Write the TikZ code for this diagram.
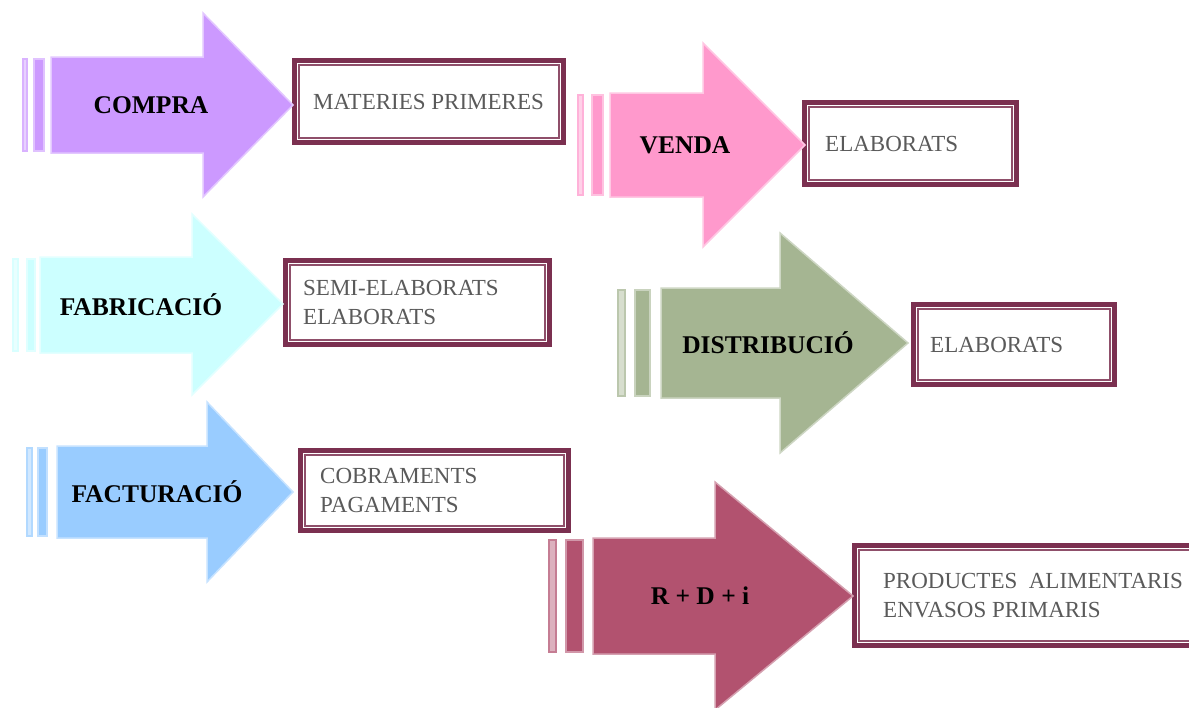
\documentclass[tikz,border=0pt]{standalone}
\usepackage{fontspec}
\setmainfont{Liberation Serif}
\usetikzlibrary{positioning}
\definecolor{compracol}{HTML}{CC99FF}
\definecolor{vendacol}{HTML}{FF99CC}
\definecolor{fabcol}{HTML}{CCFFFF}
\definecolor{distcol}{HTML}{A5B592}
\definecolor{factcol}{HTML}{99CCFF}
\definecolor{rdicol}{HTML}{B2526F}
\definecolor{boxred}{HTML}{7B3050}
\definecolor{boxgray}{HTML}{5A5A5A}
\begin{document}
\begin{tikzpicture}[
        x = 1pt, y = -1pt,
        shaft/.style    = {fill=#1, draw=#1!55!white, line width=1.5pt},
        thinbar/.style  = {fill=#1!45!white, draw=#1!75!white, line width=1.2pt},
        widebar/.style  = {fill=#1, draw=#1!60!white, line width=1.2pt},
        tag/.style      = {font=\fontsize{25.5}{30}\selectfont\bfseries, text=black, inner sep=0pt},
        box/.style      = {draw=boxred, line width=5pt, fill=white, inner sep=0pt},
        boxline/.style  = {draw=boxred!85!white, line width=1.3pt},
        boxtext/.style  = {font=\fontsize{23}{29}\selectfont, text=boxgray, align=left, inner sep=0pt},
        %sloped
      ]
    \clip (0,0) rectangle (1189,707);
    \fill[white] (0,0) rectangle (1189,707);

    % boxes
    \node[box, minimum width=269pt, minimum height=82pt] (materies) at (429,101.5) {};
    \node[box, minimum width=212pt, minimum height=82pt] (vendabox) at (910.5,143.5) {};
    \node[box, minimum width=264pt, minimum height=84pt] (fabbox) at (417.5,302.5) {};
    \node[box, minimum width=201pt, minimum height=80pt] (distbox) at (1014,344.5) {};
    \node[box, minimum width=268pt, minimum height=80pt] (factbox) at (434.5,490.5) {};
    \node[box, minimum width=360pt, minimum height=100pt] (rdibox) at (1034.5,595.5) {};
    \foreach \b in {materies, vendabox, fabbox, distbox, factbox, rdibox}
        \draw[boxline] ([shift={(7,7)}]\b.north west) rectangle ([shift={(-7,-7)}]\b.south east);

    \node[boxtext, right=21pt of materies.west] (materiestxt) {MATERIES PRIMERES};
    \node[boxtext, right=23pt of vendabox.west] (vendatxt) {ELABORATS};
    \node[boxtext, right=20pt of fabbox.west] (fabtxt) {SEMI-ELABORATS\\ELABORATS};
    \node[boxtext, right=19pt of distbox.west] (disttxt) {ELABORATS};
    \node[boxtext, right=22pt of factbox.west] (facttxt) {COBRAMENTS\\PAGAMENTS};
    \node[boxtext, right=31pt of rdibox.west] (rditxt) {PRODUCTES\ \ ALIMENTARIS\\ENVASOS PRIMARIS};

    % arrows
    \draw[thinbar=compracol] (23,59) rectangle (27,151);
    \draw[widebar=compracol] (34,59) rectangle (44,151);
    \draw[shaft=compracol] (51,57) -- (203,57) -- (203,13) -- (293,105) -- (203,197) -- (203,153) -- (51,153) -- cycle;
    \node[tag] (compra) at (151,105) {COMPRA};

    \draw[thinbar=vendacol] (578,95) rectangle (583,195);
    \draw[widebar=vendacol] (592,95) rectangle (603,195);
    \draw[shaft=vendacol] (610,93) -- (703,93) -- (703,43) -- (805,145) -- (703,247) -- (703,197) -- (610,197) -- cycle;
    \node[tag] (venda) at (685,145) {VENDA};

    \draw[thinbar=fabcol] (13,259) rectangle (18,351);
    \draw[widebar=fabcol] (27,259) rectangle (35,351);
    \draw[shaft=fabcol] (40,257) -- (192,257) -- (192,214) -- (283,304) -- (192,395) -- (192,353) -- (40,353) -- cycle;
    \node[tag] (fabricacio) at (141,305) {FABRICACIÓ};

    \draw[thinbar=distcol] (618,290) rectangle (625,396);
    \draw[widebar=distcol] (635,290) rectangle (650,396);
    \draw[shaft=distcol] (661,288) -- (780,288) -- (780,233) -- (908,343) -- (780,453) -- (780,398) -- (661,398) -- cycle;
    \node[tag] (distribucio) at (768,343) {DISTRIBUCIÓ};

    \draw[thinbar=factcol] (27,448) rectangle (32,536);
    \draw[widebar=factcol] (38,448) rectangle (47,536);
    \draw[shaft=factcol] (57,446) -- (207,446) -- (207,402) -- (293,492) -- (207,582) -- (207,538) -- (57,538) -- cycle;
    \node[tag] (facturacio) at (157,492) {FACTURACIÓ};

    \draw[thinbar=rdicol] (549,540) rectangle (556,652);
    \draw[widebar=rdicol] (566,540) rectangle (583,652);
    \draw[shaft=rdicol] (593,538) -- (715,538) -- (715,482) -- (853,596) -- (715,710) -- (715,654) -- (593,654) -- cycle;
    \node[tag] (rdi) at (700,596) {R + D + i};
\end{tikzpicture}
\end{document}
